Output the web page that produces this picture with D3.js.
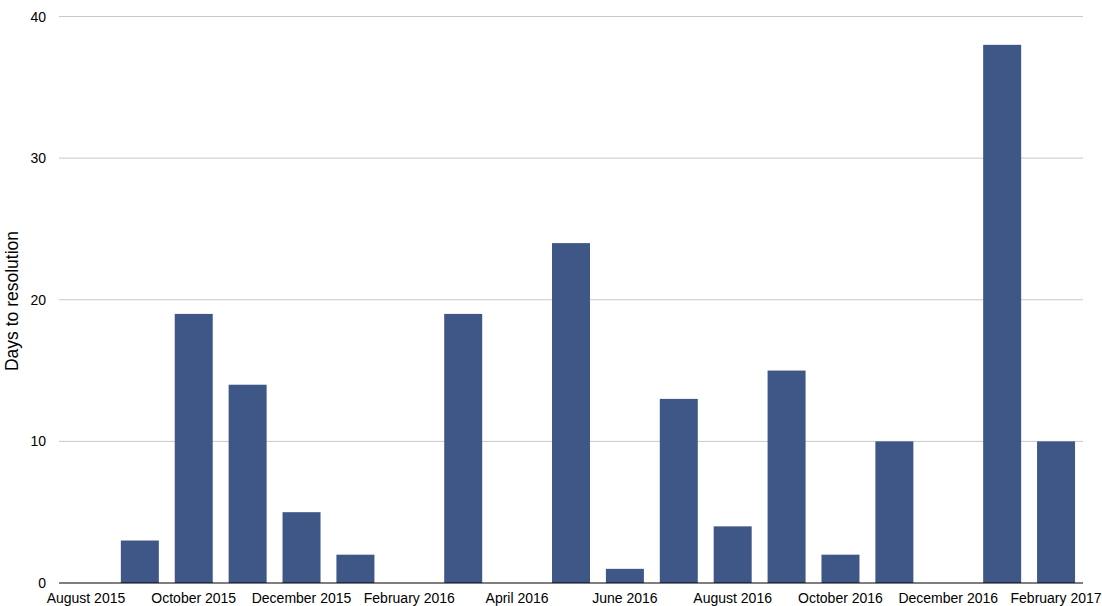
<!DOCTYPE html>
<html><head><meta charset="utf-8">
<script src="https://cdn.jsdelivr.net/npm/d3@7"></script>
<style>body{margin:0;background:#fff}svg{display:block}text{font-family:"Liberation Sans",Arial,Helvetica,sans-serif}</style>
</head><body><svg id="c" width="1102" height="606"></svg>
<script>
const months = ["August 2015","September 2015","October 2015","November 2015","December 2015","January 2016","February 2016","March 2016","April 2016","May 2016","June 2016","July 2016","August 2016","September 2016","October 2016","November 2016","December 2016","January 2017","February 2017"];
const days = [0,3,19,14,5,2,0,19,0,24,1,13,4,15,2,10,0,38,10];
const yTicks = [0,10,20,30,40];
const yTitle = "Days to resolution";

(function () {
const svg = d3.select("#c");
const mLeft = 59, mRight = 1083, mTop = 16.5, mBottom = 583;
const x = d3.scaleBand().domain(months).range([mLeft, mRight]).paddingInner(0.295).paddingOuter(0.1475);
const y = d3.scaleLinear().domain([0, 40]).range([mBottom, mTop]);

svg.append("g").selectAll("line").data(yTicks.filter(d => d > 0)).join("line")
  .attr("x1", mLeft).attr("x2", mRight).attr("y1", d => y(d)).attr("y2", d => y(d))
  .attr("stroke", "#c8c8c8").attr("stroke-width", 1);

svg.append("g").selectAll("text").data(yTicks).join("text")
  .attr("x", 46).attr("y", d => y(d) + 5).attr("text-anchor", "end")
  .attr("font-size", 14).attr("fill", "#000").text(d => d);

svg.append("g").selectAll("rect").data(days).join("rect")
  .attr("x", (d, i) => x(months[i])).attr("width", x.bandwidth())
  .attr("y", d => y(d)).attr("height", d => y(0) - y(d))
  .attr("fill", "#3f5787");

svg.append("line").attr("x1", mLeft).attr("x2", mRight).attr("y1", y(0)).attr("y2", y(0))
  .attr("stroke", "#000").attr("stroke-width", 1.2);

svg.append("g").selectAll("text").data(months.filter((m, i) => i % 2 === 0)).join("text")
  .attr("x", d => x(d) + x.bandwidth() / 2).attr("y", 603).attr("text-anchor", "middle")
  .attr("font-size", 14).attr("fill", "#000").text(d => d);

svg.append("text").attr("transform", "translate(18,301) rotate(-90)")
  .attr("text-anchor", "middle").attr("font-size", 17.5).attr("fill", "#000").text(yTitle);
})();
</script></body></html>
